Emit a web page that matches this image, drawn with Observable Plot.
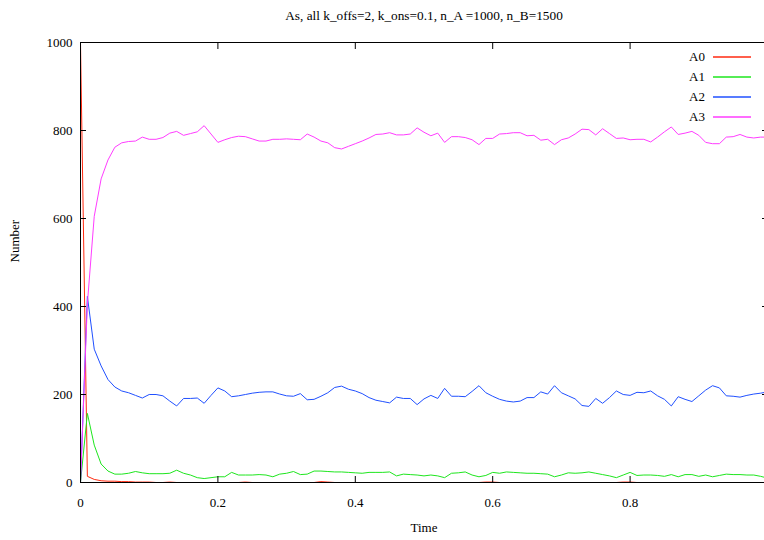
<!DOCTYPE html>
<html><head><meta charset="utf-8">
<script src="https://cdn.jsdelivr.net/npm/d3@7"></script>
<script src="https://cdn.jsdelivr.net/npm/@observablehq/plot@0.6"></script>
<style>
html,body{margin:0;padding:0;background:#fff;overflow:hidden}
#wrap{position:relative;width:764px;height:540px;overflow:hidden}
#legend{position:absolute;left:640px;top:47px;font-family:"Liberation Serif",serif;font-size:13px;color:#000}
#legend .row{display:flex;align-items:center;height:20px}
#legend .lab{width:65px;text-align:right}
#legend svg{margin-left:8px}
</style></head><body><div id="wrap"><div id="legend"></div></div>
<script>
const title = "As, all k_offs=2, k_ons=0.1, n_A =1000, n_B=1500";
const xLabel = "Time";
const yLabel = "Number";
const seriesNames = ["A0", "A1", "A2", "A3"];
const seriesColors = ["#ff2a10", "#1ee61e", "#2050ff", "#ff3cff"];
const xTicks = [0, 0.2, 0.4, 0.6, 0.8];
const yTicks = [0, 200, 400, 600, 800, 1000];

const time = [0,0.01,0.02,0.03,0.04,0.05,0.06,0.07,0.08,0.09,
  0.1,0.11,0.12,0.13,0.14,0.15,0.16,0.17,0.18,0.19,
  0.2,0.21,0.22,0.23,0.24,0.25,0.26,0.27,0.28,0.29,
  0.3,0.31,0.32,0.33,0.34,0.35,0.36,0.37,0.38,0.39,
  0.4,0.41,0.42,0.43,0.44,0.45,0.46,0.47,0.48,0.49,
  0.5,0.51,0.52,0.53,0.54,0.55,0.56,0.57,0.58,0.59,
  0.6,0.61,0.62,0.63,0.64,0.65,0.66,0.67,0.68,0.69,
  0.7,0.71,0.72,0.73,0.74,0.75,0.76,0.77,0.78,0.79,
  0.8,0.81,0.82,0.83,0.84,0.85,0.86,0.87,0.88,0.89,
  0.9,0.91,0.92,0.93,0.94,0.95,0.96,0.97,0.98,0.99,1.0];

const A0 = [1000,14,7,4,3,3,2,2,1,1,
  1,0,0,1,0,0,0,0,0,0,
  0,0,0,0,1,0,0,0,0,0,
  0,0,0,0,0,2,1,0,0,0,
  0,0,0,0,0,0,0,0,0,0,
  0,0,0,0,0,0,0,0,0,1,
  1,0,0,0,0,0,0,0,0,0,
  0,0,0,0,0,0,0,0,0,1,
  1,0,0,0,0,0,0,0,0,0,
  0,0,0,0,0,0,0,0,0,0,0];

const A1 = [0,157,85,42,26,19,19,21,25,22,
  20,20,20,21,28,21,17,11,9,11,
  13,13,23,17,17,17,18,17,13,19,
  21,25,18,19,26,26,25,24,24,23,
  22,21,23,23,23,24,15,19,18,17,
  15,17,15,11,21,22,24,17,13,16,
  23,21,24,23,22,21,21,20,19,13,
  17,22,21,22,24,21,18,15,11,17,
  23,16,17,17,16,14,18,13,18,18,
  14,17,13,16,19,18,18,17,17,14,10];

const A2 = [0,423,303,265,234,217,208,204,198,192,
  200,200,197,185,174,191,191,192,180,198,
  215,208,195,197,200,203,205,206,206,201,
  197,196,202,188,189,196,204,216,219,212,
  208,202,193,187,184,181,194,191,191,177,
  190,198,191,214,196,196,195,207,220,204,
  196,189,185,183,185,193,193,206,201,220,
  204,197,190,175,173,191,180,193,208,200,
  198,205,204,208,197,189,174,195,189,184,
  197,210,220,215,197,196,194,198,201,203,206];

const A3 = [0,406,605,690,733,762,772,775,776,785,
  780,780,784,794,798,789,793,797,811,792,
  773,779,784,787,786,781,776,776,780,780,
  781,780,779,792,785,776,772,761,758,764,
  770,776,783,791,792,795,790,790,792,806,
  796,788,794,773,786,786,784,779,768,782,
  782,792,793,795,795,788,789,778,780,768,
  779,783,792,803,802,790,804,793,782,783,
  779,780,780,774,785,797,808,791,794,798,
  789,773,770,770,785,786,791,785,783,785,785];

const seriesValues = [A0, A1, A2, A3];
const data = [];
seriesValues.forEach((vals, i) => vals.forEach((v, j) => data.push({t: time[j], n: v, s: seriesNames[i]})));

const noLabel = () => "";
const chart = Plot.plot({
  width: 764, height: 540,
  marginLeft: 80, marginRight: -3, marginTop: 42, marginBottom: 58,
  style: {fontFamily: "'Liberation Serif', serif", fontSize: "13px", background: "white", color: "black", overflow: "hidden"},
  x: {domain: [0, 1]},
  y: {domain: [0, 1000]},
  color: {domain: seriesNames, range: seriesColors},
  marks: [
    Plot.lineY(data, {x: "t", y: "n", stroke: "s", strokeWidth: 1}),
    Plot.frame({stroke: "black", strokeWidth: 1}),
    Plot.axisX(xTicks, {anchor: "bottom", tickSize: -6, tickPadding: 21, label: null, tickFormat: d => String(d)}),
    Plot.axisX(xTicks, {anchor: "top", tickSize: -6, label: null, tickFormat: noLabel}),
    Plot.axisY(yTicks, {anchor: "left", tickSize: -6, tickPadding: 14, label: null, tickFormat: d => String(d)}),
    Plot.axisY(yTicks, {anchor: "right", tickSize: -6, label: null, tickFormat: noLabel}),
    Plot.text([title], {frameAnchor: "top", dy: -32, fontSize: 13.3}),
    Plot.text([xLabel], {frameAnchor: "bottom", dy: 49, fontSize: 13}),
    Plot.text([yLabel], {frameAnchor: "left", dx: -66, rotate: -90, fontSize: 13})
  ]
});
const wrap = document.getElementById("wrap");
wrap.insertBefore(chart, wrap.firstChild);

const legend = document.getElementById("legend");
seriesNames.forEach((name, i) => {
  const row = document.createElement("div");
  row.className = "row";
  row.innerHTML = `<span class="lab">${name}</span><svg width="38" height="4"><line x1="0" x2="38" y1="2" y2="2" stroke="${seriesColors[i]}" stroke-width="1.5"/></svg>`;
  legend.appendChild(row);
});
</script>
</body></html>
